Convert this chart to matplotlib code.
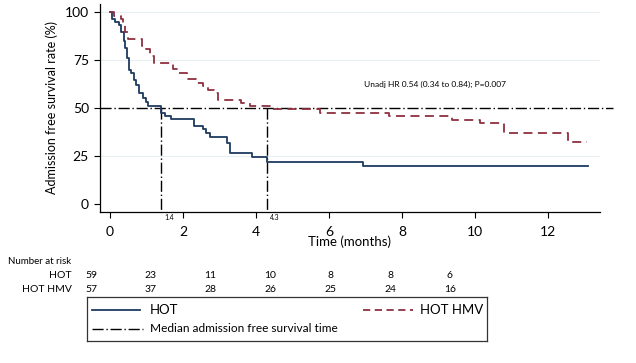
import matplotlib.pyplot as plt

plt.rcParams['font.family'] = ['Lato', 'DejaVu Sans']

# Kaplan-Meier step data (time in months, survival %)
hot_t = [0, 0.05, 0.15, 0.25, 0.30, 0.38, 0.42, 0.47, 0.52, 0.58, 0.65, 0.72, 0.80,
         0.90, 1.00, 1.05, 1.40, 1.50, 1.68, 2.30, 2.55, 2.62, 2.75, 3.20, 3.30,
         3.90, 4.30, 6.92, 13.10]
hot_s = [100, 96.6, 94.9, 93.2, 89.8, 84.7, 81.4, 76.3, 69.8, 68.4, 64.6, 62.0, 57.6,
         55.0, 53.3, 50.8, 47.5, 45.8, 44.1, 40.7, 38.9, 37.2, 35.0, 31.8, 26.5,
         24.3, 22.0, 19.6, 19.6]

hmv_t = [0, 0.10, 0.30, 0.36, 0.42, 0.50, 0.88, 0.98, 1.10, 1.20, 1.73, 1.90, 2.10,
         2.37, 2.55, 2.70, 2.85, 2.95, 3.60, 3.85, 4.40, 5.75, 7.65, 9.36, 10.14,
         10.78, 12.55, 13.06]
hmv_s = [100, 98.2, 96.5, 93.0, 89.5, 86.0, 82.5, 80.7, 77.2, 73.7, 70.2, 68.4, 64.9,
         63.2, 61.4, 59.6, 57.9, 54.4, 52.6, 50.9, 49.5, 47.4, 45.6, 43.9, 42.1,
         36.8, 32.4, 32.4]

median_hot = 1.4
median_hmv = 4.3

risk_groups = ['HOT', 'HOT HMV']
risk_hot = [59, 23, 11, 10, 8, 8, 6]
risk_hmv = [57, 37, 28, 26, 25, 24, 16]

blue = '#1d3a5f'
red = '#8e3040'

W, H = 636, 363
fig = plt.figure(figsize=(6.36, 3.63), dpi=100)
ax = fig.add_axes([100 / W, 1 - 212 / H, 500 / W, 208 / H])

# faint grid
for g in [25, 75, 100]:
    ax.axhline(g, color='#e9eef2', lw=0.8, zorder=0)

ax.step(hot_t, hot_s, where='post', color=blue, lw=1.3, zorder=3)
ax.step(hmv_t, hmv_s, where='post', color=red, lw=1.3, ls=(0, (5, 3)), zorder=3)

# median lines
ax.plot([-0.27, 13.78], [50, 50], color='black', lw=1.0, ls=(0, (8, 2, 1, 2)),
        clip_on=False, zorder=2)
for m in [median_hot, median_hmv]:
    ax.plot([m, m], [50, -4.2], color='black', lw=1.0, ls=(0, (8, 2, 1, 2)),
            clip_on=False, zorder=2)
    ax.text(m + 0.08, -5.5, f'{m:.1f}', fontsize=5, ha='left', va='top')

ax.set_xlim(-0.27, 13.42)
ax.set_ylim(-4.2, 104.2)
ax.set_xticks([0, 2, 4, 6, 8, 10, 12])
ax.set_yticks([0, 25, 50, 75, 100])
ax.tick_params(direction='out', length=4, width=0.8, labelsize=10, pad=4)
ax.tick_params(axis='x', pad=6)
for s in ['top', 'right']:
    ax.spines[s].set_visible(False)
ax.spines['left'].set_linewidth(0.9)
ax.spines['bottom'].set_linewidth(0.9)
ax.set_ylabel('Admission free survival rate (%)', fontsize=9, labelpad=5)
ax.set_xlabel('Time (months)', fontsize=9.5, labelpad=-1.5)

ax.text(8.9, 62.5, 'Unadj HR 0.54 (0.34 to 0.84); P=0.007', fontsize=6,
        ha='center', va='center')

# number at risk table
fig.text(8 / W, 1 - 261 / H, 'Number at risk', fontsize=7, ha='left', va='center')
row_y = [275, 289]
for name, vals, yy in zip(risk_groups, [risk_hot, risk_hmv], row_y):
    fig.text(72 / W, 1 - yy / H, name, fontsize=7.5, ha='right', va='center')
    for i, v in enumerate(vals):
        fig.text((91 + i * 59.8) / W, 1 - yy / H, str(v), fontsize=7.5,
                 ha='center', va='center')

# legend box
lg = fig.add_axes([87 / W, 1 - 341 / H, 400 / W, 44 / H])
lg.set_xlim(0, 400)
lg.set_ylim(44, 0)
lg.set_xticks([])
lg.set_yticks([])
for s in lg.spines.values():
    s.set_linewidth(0.9)
    s.set_color('#333333')
lg.plot([5, 53], [12.5, 12.5], color=blue, lw=1.3)
lg.text(63, 12.5, 'HOT', fontsize=9.5, va='center', ha='left')
lg.plot([276, 326], [12.5, 12.5], color=red, lw=1.3, ls=(0, (4, 2.5)))
lg.text(333, 12.5, 'HOT HMV', fontsize=9.5, va='center', ha='left')
lg.plot([5, 56], [31.5, 31.5], color='black', lw=1.0, ls=(0, (8, 2, 1, 2)))
lg.text(63, 31.5, 'Median admission free survival time', fontsize=8.6,
        va='center', ha='left')

fig.savefig('out.png', dpi=100)
